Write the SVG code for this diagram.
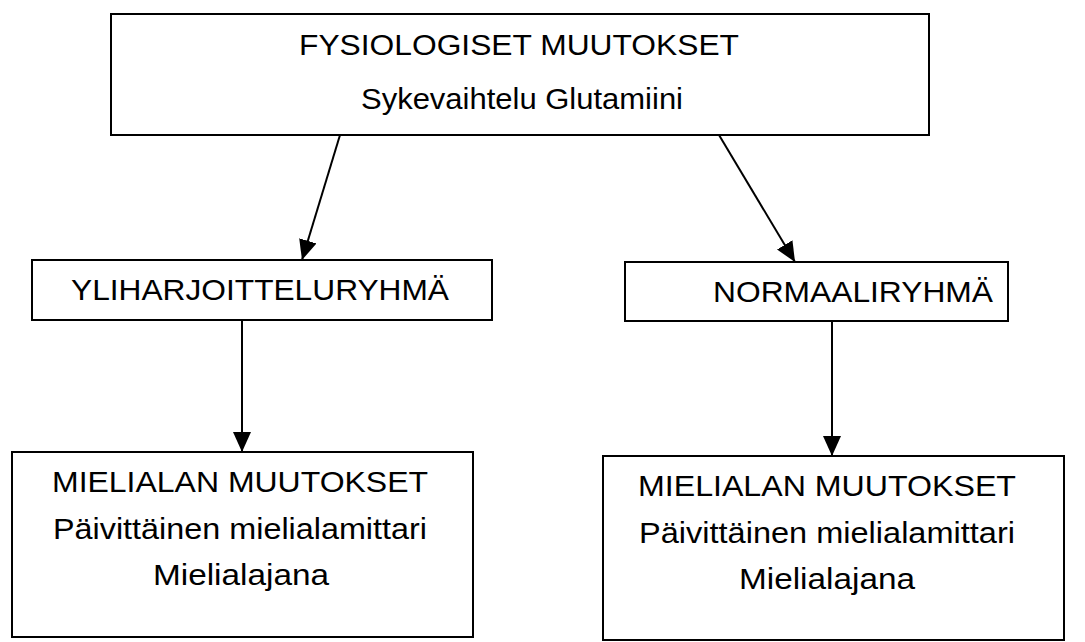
<svg xmlns="http://www.w3.org/2000/svg" width="1085" height="642" viewBox="0 0 1085 642">
<style>
.box{fill:#fff;stroke:#000;stroke-width:2}
.t{font-family:"Liberation Sans",Arial,sans-serif;fill:#000;text-anchor:middle;font-size:29px}
.conn{stroke:#000;stroke-width:2;fill:none}
</style>
<defs>
<marker id="ah" viewBox="0 0 20 18" refX="20" refY="9" markerWidth="20" markerHeight="18" markerUnits="userSpaceOnUse" orient="auto">
<path d="M0,0 L20,9 L0,18 Z" fill="#000"/>
</marker>
</defs>
<rect width="1085" height="642" fill="#fff"/>
<g id="fysiologiset">
<rect class="box" x="111" y="14" width="818" height="121"/>
<text class="t" x="519" y="55" textLength="440" lengthAdjust="spacingAndGlyphs">FYSIOLOGISET MUUTOKSET</text>
<text class="t" x="522" y="109" textLength="322" lengthAdjust="spacingAndGlyphs">Sykevaihtelu Glutamiini</text>
</g>
<g id="yliharjoittelu">
<rect class="box" x="32" y="260" width="460" height="60"/>
<text class="t" x="260" y="300" textLength="378" lengthAdjust="spacingAndGlyphs">YLIHARJOITTELURYHMÄ</text>
</g>
<g id="normaali">
<rect class="box" x="625" y="262" width="383" height="59"/>
<text class="t" x="853" y="302" textLength="280" lengthAdjust="spacingAndGlyphs">NORMAALIRYHMÄ</text>
</g>
<g id="mieliala1">
<rect class="box" x="12" y="452" width="461" height="185"/>
<text class="t" x="240" y="492" textLength="376" lengthAdjust="spacingAndGlyphs">MIELIALAN MUUTOKSET</text>
<text class="t" x="240" y="539" textLength="374" lengthAdjust="spacingAndGlyphs">Päivittäinen mielialamittari</text>
<text class="t" x="241" y="585" textLength="176" lengthAdjust="spacingAndGlyphs">Mielialajana</text>
</g>
<g id="mieliala2">
<rect class="box" x="603" y="456" width="461" height="184"/>
<text class="t" x="827" y="496" textLength="378" lengthAdjust="spacingAndGlyphs">MIELIALAN MUUTOKSET</text>
<text class="t" x="827" y="543" textLength="376" lengthAdjust="spacingAndGlyphs">Päivittäinen mielialamittari</text>
<text class="t" x="827" y="589" textLength="176" lengthAdjust="spacingAndGlyphs">Mielialajana</text>
</g>
<g id="connectors">
<line class="conn" x1="340" y1="135" x2="302" y2="260" marker-end="url(#ah)"/>
<line class="conn" x1="719" y1="135" x2="795" y2="262" marker-end="url(#ah)"/>
<line class="conn" x1="242" y1="320" x2="242" y2="452" marker-end="url(#ah)"/>
<line class="conn" x1="832" y1="321" x2="832" y2="456" marker-end="url(#ah)"/>
</g>
</svg>
